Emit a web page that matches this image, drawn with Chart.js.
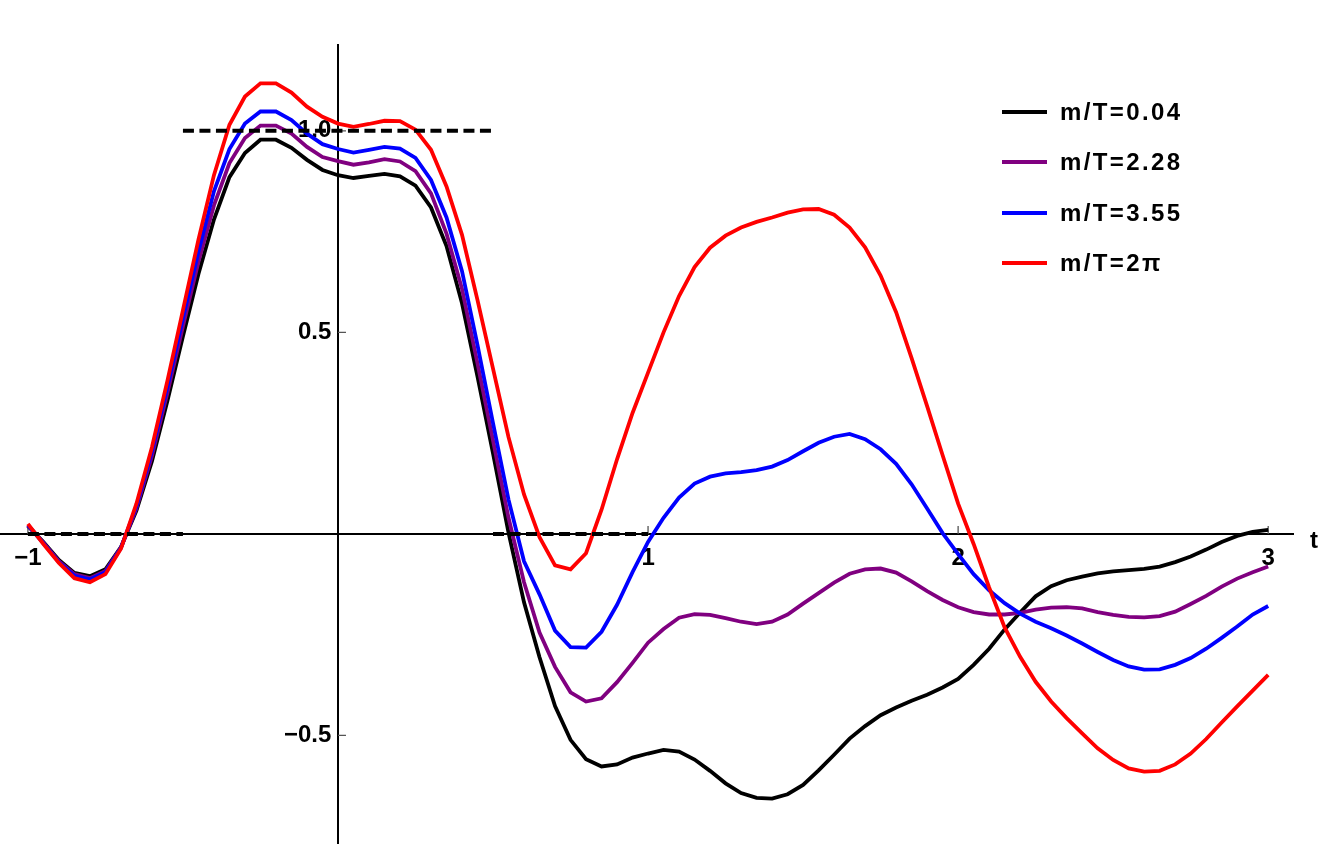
<!DOCTYPE html>
<html>
<head>
<meta charset="utf-8">
<script src="https://cdn.jsdelivr.net/npm/chart.js@4.4.0/dist/chart.umd.min.js"></script>
<style>
html, body { margin: 0; padding: 0; background: #fff; }
#wrap { position: relative; width: 1321px; height: 846px; }
#legend { position: absolute; left: 1002px; top: 87px; font: bold 24px "Liberation Sans", Arial, sans-serif; letter-spacing: 2.4px; color: #000; }
.row { display: flex; align-items: center; height: 50.3px; }
.swatch { width: 45px; height: 4px; margin-right: 13px; }
</style>
</head>
<body>
<div id="wrap">
  <canvas id="chart" width="1321" height="846"></canvas>
  <div id="legend"></div>
</div>
<script>

// sample times (t)
var tValues = [
  -1, -0.95, -0.9, -0.85, -0.8, -0.75, -0.7, -0.65, -0.6, -0.55, -0.5, -0.45, -0.4, -0.35, -0.3, -0.25, -0.2, -0.15, -0.1, -0.05, 0,
  0.05, 0.1, 0.15, 0.2, 0.25, 0.3, 0.35, 0.4, 0.45, 0.5, 0.55, 0.6, 0.65, 0.7, 0.75, 0.8, 0.85, 0.9, 0.95, 1,
  1.05, 1.1, 1.15, 1.2, 1.25, 1.3, 1.35, 1.4, 1.45, 1.5, 1.55, 1.6, 1.65, 1.7, 1.75, 1.8, 1.85, 1.9, 1.95, 2,
  2.05, 2.1, 2.15, 2.2, 2.25, 2.3, 2.35, 2.4, 2.45, 2.5, 2.55, 2.6, 2.65, 2.7, 2.75, 2.8, 2.85, 2.9, 2.95, 3
];

// m/T = 0.04
var blackVals = [
  0.02, -0.02, -0.065, -0.097, -0.105, -0.088, -0.033, 0.058, 0.18, 0.33, 0.49, 0.645, 0.78, 0.885, 0.945, 0.978, 0.978, 0.958, 0.928, 0.903, 0.89,
  0.883, 0.888, 0.893, 0.887, 0.864, 0.81, 0.714, 0.572, 0.39, 0.2, 0.003, -0.17, -0.306, -0.427, -0.511, -0.559, -0.577, -0.572, -0.555, -0.545,
  -0.536, -0.54, -0.56, -0.588, -0.619, -0.643, -0.655, -0.657, -0.646, -0.623, -0.587, -0.548, -0.508, -0.477, -0.45, -0.431, -0.414, -0.399, -0.381, -0.36,
  -0.325, -0.285, -0.237, -0.195, -0.155, -0.13, -0.115, -0.106, -0.098, -0.093, -0.09, -0.087, -0.081, -0.07, -0.056, -0.039, -0.02, -0.005, 0.005, 0.01
];

// m/T = 2.28
var purpleVals = [
  0.02, -0.022, -0.068, -0.1, -0.11, -0.092, -0.034, 0.063, 0.193, 0.35, 0.515, 0.675, 0.815, 0.92, 0.982, 1.013, 1.013, 0.993, 0.96, 0.935, 0.925,
  0.916, 0.922, 0.93, 0.924, 0.9, 0.845, 0.745, 0.608, 0.423, 0.232, 0.04, -0.12, -0.245, -0.33, -0.393, -0.416, -0.408, -0.368, -0.32, -0.27,
  -0.236, -0.208, -0.199, -0.201, -0.209, -0.218, -0.224, -0.218, -0.2, -0.173, -0.147, -0.121, -0.099, -0.088, -0.086, -0.096, -0.118, -0.142, -0.164, -0.182,
  -0.194, -0.2, -0.2, -0.196, -0.188, -0.183, -0.182, -0.185, -0.194, -0.201, -0.206, -0.207, -0.204, -0.193, -0.174, -0.154, -0.131, -0.111, -0.095, -0.081
];

// m/T = 3.55
var blueVals = [
  0.022, -0.023, -0.07, -0.104, -0.113, -0.095, -0.035, 0.068, 0.205, 0.365, 0.535, 0.7, 0.85, 0.955, 1.018, 1.048, 1.048, 1.027, 0.993, 0.967, 0.955,
  0.946, 0.953, 0.96, 0.956, 0.933, 0.878, 0.785, 0.652, 0.468, 0.275, 0.085, -0.068, -0.15, -0.24, -0.281, -0.282, -0.243, -0.176, -0.095, -0.02,
  0.04, 0.09, 0.125, 0.142, 0.15, 0.153, 0.158, 0.167, 0.183, 0.205, 0.226, 0.241, 0.248, 0.235, 0.21, 0.174, 0.123, 0.063, 0.002, -0.05,
  -0.1, -0.14, -0.172, -0.198, -0.218, -0.234, -0.252, -0.272, -0.293, -0.313, -0.329, -0.337, -0.336, -0.325, -0.308, -0.285, -0.258, -0.23, -0.2, -0.179
];

// m/T = 2 pi
var redVals = [
  0.025, -0.025, -0.072, -0.11, -0.12, -0.1, -0.037, 0.075, 0.215, 0.38, 0.555, 0.73, 0.89, 1.015, 1.085, 1.118, 1.118, 1.095, 1.06, 1.035, 1.018,
  1.01, 1.017, 1.025, 1.024, 1.003, 0.953, 0.862, 0.742, 0.58, 0.41, 0.24, 0.098, -0.008, -0.078, -0.088, -0.048, 0.06, 0.185, 0.3, 0.4,
  0.5, 0.59, 0.662, 0.71, 0.74, 0.76, 0.774, 0.785, 0.797, 0.805, 0.806, 0.792, 0.76, 0.711, 0.641, 0.55, 0.436, 0.317, 0.195, 0.075,
  -0.025, -0.133, -0.232, -0.305, -0.367, -0.416, -0.457, -0.495, -0.532, -0.561, -0.582, -0.59, -0.588, -0.572, -0.545, -0.509, -0.468, -0.428, -0.389, -0.35
];

// dashed rectangle pulse (null = gap)
var pulseT = [-1, -0.5, -0.5, -0.5, 0.5, 0.5, 0.5, 1];
var pulseY = [0, 0, null, 1, 1, null, 0, 0];

var seriesLabels = ["m/T=0.04", "m/T=2.28", "m/T=3.55", "m/T=2\u03c0"];
var seriesColors = ["#000000", "#800080", "#0000ff", "#ff0000"];
var seriesValues = [blackVals, purpleVals, blueVals, redVals];

var FONT = "'Liberation Sans', Arial, sans-serif";

function toPoints(xs, ys) {
    var pts = [];
    for (var i = 0; i < xs.length; i++) {
        pts.push({ x: xs[i], y: ys[i] });
    }
    return pts;
}

function isMultiple(v, step) {
    var q = v / step;
    return Math.abs(q - Math.round(q)) < 1e-6;
}

function minusSign(s) {
    return String(s).replace('-', '\u2212');
}

// axes sit inside the plot, so they should not push the plot area around
function noPadding(scale) {
    scale.paddingLeft = 0;
    scale.paddingRight = 0;
    scale.paddingTop = 0;
    scale.paddingBottom = 0;
}

var datasets = [];
for (var i = 0; i < seriesValues.length; i++) {
    datasets.push({
        label: seriesLabels[i],
        data: toPoints(tValues, seriesValues[i]),
        borderColor: seriesColors[i],
        borderWidth: 3.8,
        pointRadius: 0,
        tension: 0,
        fill: false,
        order: seriesValues.length - i  // red on top
    });
}
datasets.push({
    label: 'pulse',
    data: toPoints(pulseT, pulseY),
    borderColor: '#000',
    borderWidth: 4,
    borderDash: [11, 5.5],
    pointRadius: 0,
    spanGaps: false,
    fill: false,
    order: -1
});

// inward tick marks and the "t" axis name
var axisMarks = {
    id: 'axisMarks',
    beforeDatasetsDraw: function(chart) {
        var ctx = chart.ctx;
        var xs = chart.scales.x;
        var ys = chart.scales.y;
        var x0 = xs.getPixelForValue(0);
        var y0 = ys.getPixelForValue(0);
        ctx.save();
        ctx.strokeStyle = '#555';
        ctx.lineWidth = 1.3;
        ctx.beginPath();
        xs.ticks.forEach(function(tk) {
            if (Math.abs(tk.value) < 1e-9) return;
            var px = xs.getPixelForValue(tk.value);
            var len = isMultiple(tk.value, 1) ? 8 : 5;
            ctx.moveTo(px, y0);
            ctx.lineTo(px, y0 - len);
        });
        ys.ticks.forEach(function(tk) {
            if (Math.abs(tk.value) < 1e-9) return;
            var py = ys.getPixelForValue(tk.value);
            var len = isMultiple(tk.value, 0.5) ? 8 : 5;
            ctx.moveTo(x0, py);
            ctx.lineTo(x0 + len, py);
        });
        ctx.stroke();
        ctx.fillStyle = '#000';
        ctx.font = 'bold 24px ' + FONT;
        ctx.textBaseline = 'alphabetic';
        ctx.textAlign = 'left';
        ctx.fillText('t', xs.right + 17, y0 + 14);
        ctx.restore();
    }
};

new Chart(document.getElementById("chart"), {
    type: 'line',
    data: { datasets: datasets },
    plugins: [axisMarks],
    options: {
        responsive: false,
        animation: false,
        layout: { padding: { left: 0, right: 28, top: 45, bottom: 3 } },
        plugins: {
            legend: { display: false },
            tooltip: { enabled: false }
        },
        scales: {
            x: {
                type: 'linear',
                position: { y: 0 },
                min: -1.09,
                max: 3.08,
                afterFit: noPadding,
                grid: { display: false, drawTicks: false },
                border: { display: true, color: '#000', width: 2 },
                ticks: {
                    stepSize: 0.2,
                    includeBounds: false,
                    autoSkip: false,
                    maxRotation: 0,
                    padding: 10,
                    color: '#000',
                    font: { family: FONT, size: 24, weight: 'bold' },
                    callback: function(v) {
                        if (isMultiple(v, 1) && Math.round(v) !== 0) return minusSign(Math.round(v));
                        return null;
                    }
                }
            },
            y: {
                type: 'linear',
                position: { x: 0 },
                min: -0.767,
                max: 1.213,
                afterFit: noPadding,
                grid: { display: false, drawTicks: false },
                border: { display: true, color: '#000', width: 2 },
                ticks: {
                    stepSize: 0.1,
                    includeBounds: false,
                    autoSkip: false,
                    color: '#000',
                    font: { family: FONT, size: 24, weight: 'bold' },
                    callback: function(v) {
                        if (isMultiple(v, 0.5) && Math.abs(v) > 1e-9) return minusSign(v.toFixed(1)) + ' ';
                        return null;
                    }
                }
            }
        }
    }
});

// legend built from the series arrays
var legend = document.getElementById('legend');
for (var k = 0; k < seriesLabels.length; k++) {
    var row = document.createElement('div');
    row.className = 'row';
    var sw = document.createElement('span');
    sw.className = 'swatch';
    sw.style.background = seriesColors[k];
    var txt = document.createElement('span');
    txt.textContent = seriesLabels[k];
    row.appendChild(sw);
    row.appendChild(txt);
    legend.appendChild(row);
}
</script>
</body>
</html>
